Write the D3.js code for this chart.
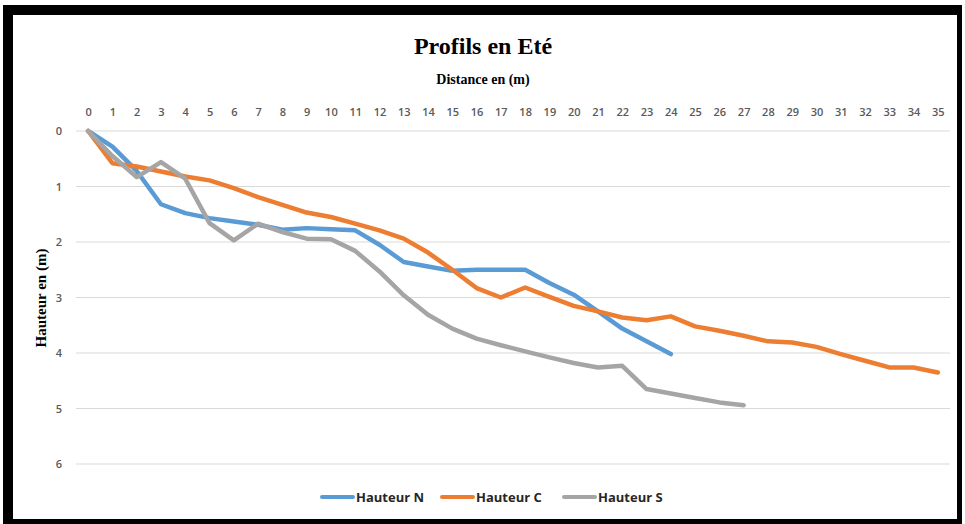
<!DOCTYPE html>
<html>
<head>
<meta charset="utf-8">
<script src="https://cdn.jsdelivr.net/npm/d3@7"></script>
<style>
  body { margin: 0; background: #fff; }
  svg { display: block; }
  .tick-label { font-family: "Open Sans", sans-serif; font-size: 11px; font-weight: 600; fill: #595959; }
  .serif { font-family: "Liberation Serif", "Times New Roman", serif; font-weight: bold; fill: #000; }
  .legend-text { font-family: "Open Sans", sans-serif; font-size: 13px; font-weight: 700; fill: #262626; }
</style>
</head>
<body>
<div id="chart"></div>
<script>
// distances (m) along the profile
var distances = d3.range(0, 36);
var yTicks = [0, 1, 2, 3, 4, 5, 6];

// heights
var hauteurN = [0, 0.28, 0.72, 1.32, 1.48, 1.57, 1.63, 1.69, 1.78, 1.75, 1.77, 1.79, 2.05, 2.36, 2.44, 2.52, 2.5, 2.5, 2.5, 2.74, 2.95, 3.25, 3.56, 3.79, 4.02];
var hauteurC = [0, 0.58, 0.64, 0.73, 0.82, 0.89, 1.03, 1.19, 1.33, 1.47, 1.55, 1.67, 1.79, 1.94, 2.19, 2.5, 2.83, 3.0, 2.82, 2.99, 3.15, 3.25, 3.36, 3.41, 3.34, 3.52, 3.6, 3.69, 3.79, 3.81, 3.89, 4.02, 4.14, 4.26, 4.26, 4.35];
var hauteurS = [0, 0.45, 0.83, 0.56, 0.86, 1.66, 1.97, 1.67, 1.82, 1.94, 1.95, 2.16, 2.53, 2.96, 3.31, 3.56, 3.74, 3.86, 3.97, 4.08, 4.18, 4.26, 4.23, 4.65, 4.73, 4.81, 4.89, 4.94];

var seriesNames = ["Hauteur N", "Hauteur C", "Hauteur S"];
var seriesColors = ["#5B9BD5", "#ED7D31", "#A5A5A5"];
var seriesValues = [hauteurN, hauteurC, hauteurS];

var width = 965, height = 524;
var plot = { left: 76, right: 950, top: 131, bottom: 464 };

var svg = d3.select("#chart").append("svg")
  .attr("width", width)
  .attr("height", height);

// black frame
svg.append("rect").attr("x", 3).attr("y", 5).attr("width", 959).attr("height", 519).attr("fill", "#000");
svg.append("rect").attr("x", 13).attr("y", 15).attr("width", 944).attr("height", 504).attr("fill", "#fff");

var x = d3.scalePoint()
  .domain(distances)
  .range([plot.left, plot.right])
  .padding(0.5);

var y = d3.scaleLinear()
  .domain([0, 6])
  .range([plot.top, plot.bottom]);

// gridlines
svg.append("g")
  .selectAll("line")
  .data(yTicks)
  .enter().append("line")
  .attr("x1", plot.left)
  .attr("x2", plot.right)
  .attr("y1", function(d) { return y(d); })
  .attr("y2", function(d) { return y(d); })
  .attr("stroke", "#d9d9d9")
  .attr("stroke-width", 1);

// top axis (distance)
var xAxis = svg.append("g")
  .attr("transform", "translate(0," + 116 + ")")
  .call(d3.axisTop(x).tickSize(0).tickPadding(0));
xAxis.select(".domain").remove();
xAxis.selectAll("text").attr("class", "tick-label").attr("fill", null);

// left axis (height)
var yAxis = svg.append("g")
  .attr("transform", "translate(" + 62 + ",0)")
  .call(d3.axisLeft(y).tickValues(yTicks).tickFormat(d3.format("d")).tickSize(0).tickPadding(0));
yAxis.select(".domain").remove();
yAxis.selectAll("text").attr("class", "tick-label").attr("fill", null);

// titles
svg.append("text").attr("class", "serif")
  .attr("x", 483).attr("y", 54)
  .attr("text-anchor", "middle")
  .style("font-size", "24px")
  .text("Profils en Eté");

svg.append("text").attr("class", "serif")
  .attr("x", 483).attr("y", 84)
  .attr("text-anchor", "middle")
  .style("font-size", "14px")
  .text("Distance en (m)");

svg.append("text").attr("class", "serif")
  .attr("transform", "translate(46,298) rotate(-90)")
  .attr("text-anchor", "middle")
  .style("font-size", "15px")
  .text("Hauteur en (m)");

// lines
var line = d3.line()
  .x(function(d, i) { return x(distances[i]); })
  .y(function(d) { return y(d); });

svg.append("g")
  .selectAll("path")
  .data(seriesValues)
  .enter().append("path")
  .attr("d", line)
  .attr("fill", "none")
  .attr("stroke", function(d, i) { return seriesColors[i]; })
  .attr("stroke-width", 4.5)
  .attr("stroke-linejoin", "round")
  .attr("stroke-linecap", "round");

// legend
var legendX = [322, 442, 564];
var legend = svg.append("g")
  .selectAll("g")
  .data(seriesNames)
  .enter().append("g")
  .attr("transform", function(d, i) { return "translate(" + legendX[i] + ",497)"; });

legend.append("line")
  .attr("x1", 0).attr("x2", 31)
  .attr("stroke", function(d, i) { return seriesColors[i]; })
  .attr("stroke-width", 4)
  .attr("stroke-linecap", "round");

legend.append("text")
  .attr("class", "legend-text")
  .attr("x", 34)
  .attr("dy", "0.35em")
  .text(function(d) { return d; });
</script>
</body>
</html>
